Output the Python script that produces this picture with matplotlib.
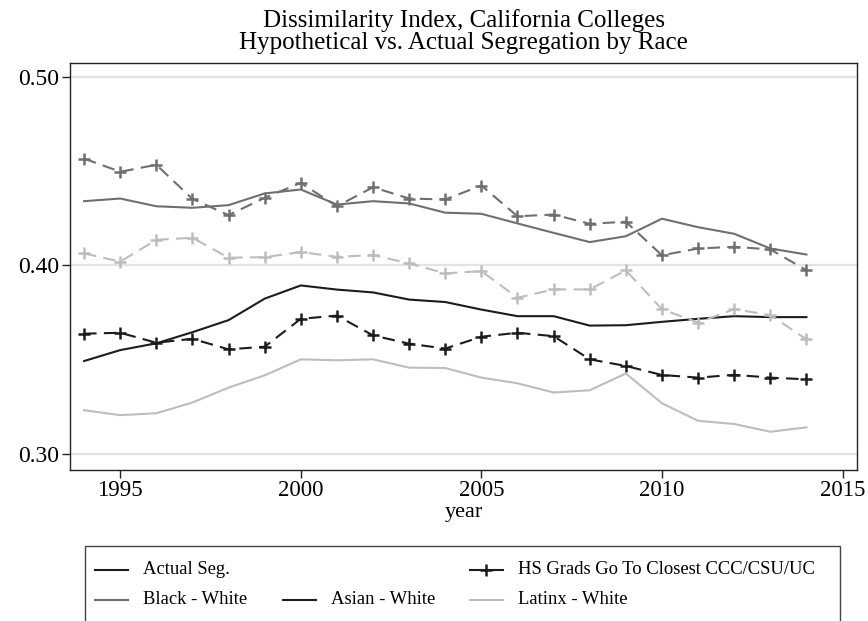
import matplotlib
matplotlib.use("Agg")
import matplotlib.pyplot as plt
from matplotlib.lines import Line2D
from matplotlib.patches import Rectangle

plt.rcParams["font.family"] = ["Liberation Serif", "DejaVu Serif"]

years = list(range(1994, 2015))

# Actual dissimilarity index
black_white_actual = [0.4341, 0.4355, 0.4314, 0.4306, 0.4320, 0.4382, 0.4403, 0.4323, 0.4341, 0.4329, 0.4280,
                      0.4274, 0.4223, 0.4173, 0.4124, 0.4155, 0.4248, 0.4203, 0.4168, 0.4090, 0.4058]
asian_white_actual = [0.3493, 0.3551, 0.3587, 0.3646, 0.3710, 0.3824, 0.3894, 0.3872, 0.3857, 0.3819, 0.3806,
                      0.3766, 0.3731, 0.3731, 0.3681, 0.3683, 0.3701, 0.3717, 0.3731, 0.3726, 0.3726]
latinx_white_actual = [0.3232, 0.3206, 0.3216, 0.3273, 0.3352, 0.3417, 0.3502, 0.3497, 0.3502, 0.3458, 0.3456,
                       0.3405, 0.3375, 0.3326, 0.3338, 0.3427, 0.3269, 0.3176, 0.3159, 0.3118, 0.3141]

# Hypothetical: HS grads attend the closest CCC/CSU/UC
black_white_hypo = [0.4567, 0.4497, 0.4534, 0.4353, 0.4267, 0.4359, 0.4438, 0.4314, 0.4415, 0.4355, 0.4350,
                    0.4424, 0.4261, 0.4270, 0.4221, 0.4232, 0.4054, 0.4090, 0.4099, 0.4085, 0.3975]
asian_white_hypo = [0.3638, 0.3643, 0.3590, 0.3611, 0.3555, 0.3569, 0.3717, 0.3734, 0.3629, 0.3585, 0.3559,
                    0.3622, 0.3643, 0.3625, 0.3502, 0.3467, 0.3419, 0.3405, 0.3420, 0.3405, 0.3396]
latinx_white_hypo = [0.4064, 0.4020, 0.4136, 0.4147, 0.4041, 0.4044, 0.4071, 0.4046, 0.4055, 0.4011, 0.3958,
                     0.3970, 0.3829, 0.3873, 0.3873, 0.3974, 0.3768, 0.3697, 0.3768, 0.3737, 0.3608]

y_ticks = [0.30, 0.40, 0.50]
y_tick_labels = ["0.30", "0.40", "0.50"]
x_ticks = [1995, 2000, 2005, 2010, 2015]

title_lines = ["Dissimilarity Index, California Colleges",
               "Hypothetical vs. Actual Segregation by Race"]

c_black = "#6f6f6f"
c_asian = "#1c1c1c"
c_latinx = "#bdbdbd"

W, H = 868, 621
fig = plt.figure(figsize=(W / 100, H / 100), dpi=100)
ax = fig.add_axes([70 / W, 1 - 470 / H, (857 - 70) / W, (470 - 63) / H])

lw = 1.5
dash = (6, 3.5)
series = [
    (black_white_actual, black_white_hypo, c_black),
    (asian_white_actual, asian_white_hypo, c_asian),
    (latinx_white_actual, latinx_white_hypo, c_latinx),
]
for actual, hypo, col in series:
    ax.plot(years, actual, color=col, lw=lw, zorder=3)
    ax.plot(years, hypo, color=col, lw=lw, dashes=dash, marker="+",
            markersize=9, markeredgewidth=1.8, zorder=3)

ax.set_xlim(1993.61, 2015.4)
ax.set_ylim(0.2915, 0.5074)
ax.set_yticks(y_ticks)
ax.set_yticklabels(y_tick_labels)
ax.set_xticks(x_ticks)
ax.grid(axis="y", color="#e3e3e3", lw=1.6, zorder=0)
ax.grid(axis="x", visible=False)
for s in ax.spines.values():
    s.set_color("#222222")
    s.set_linewidth(1.0)
ax.tick_params(axis="both", direction="out", length=6, width=1.0, color="#222222",
               labelsize=16.5)
ax.tick_params(axis="x", pad=1.5)
ax.tick_params(axis="y", pad=2, labelsize=17)
ax.set_xlabel("year", fontsize=16, labelpad=1)

# Two-line title centred over the plot area
cx = (70 + 857) / 2 / W
fig.text(cx, 1 - 21 / H, title_lines[0], fontsize=18, ha="center", va="center")
fig.text(cx, 1 - 43 / H, title_lines[1], fontsize=18, ha="center", va="center")

# Legend box (extends past the lower edge of the figure)
fig.add_artist(Rectangle((85 / W, 1 - 660 / H), (840 - 85) / W, (660 - 546) / H,
                         transform=fig.transFigure, fill=False, edgecolor="#444444", lw=1.0,
                         clip_on=False))

def legend_entry(x_line, y, color, label, marker=None):
    yy = 1 - y / H
    fig.add_artist(Line2D([x_line / W, (x_line + 33) / W], [yy, yy], transform=fig.transFigure,
                          color=color, lw=lw))
    if marker:
        fig.add_artist(Line2D([(x_line + 16.5) / W], [yy], transform=fig.transFigure,
                              color=color, marker=marker, markersize=9, markeredgewidth=1.8,
                              linestyle="none"))
    fig.text((x_line + 48) / W, yy, label, fontsize=13.4, va="center", ha="left")

legend_entry(95, 570, c_asian, "Actual Seg.")
legend_entry(470, 570, c_asian, "HS Grads Go To Closest CCC/CSU/UC", marker="+")
legend_entry(95, 600, c_black, "Black - White")
legend_entry(283, 600, c_asian, "Asian - White")
legend_entry(470, 600, c_latinx, "Latinx - White")

fig.savefig("out.png", dpi=100)
